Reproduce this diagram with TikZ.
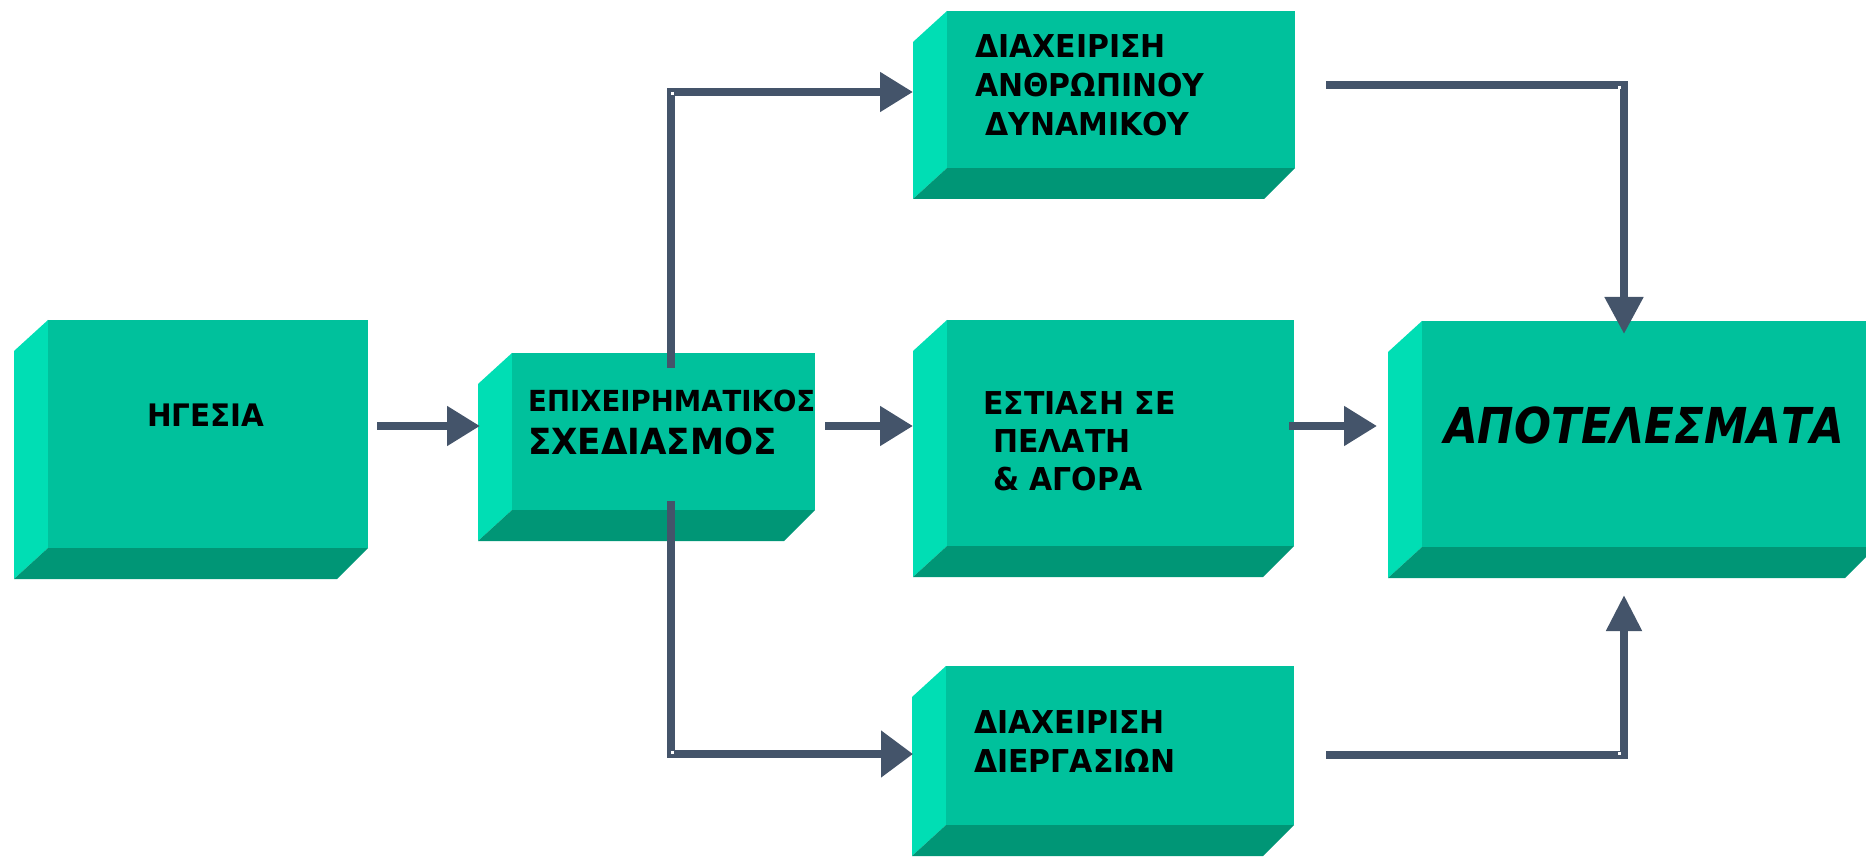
\documentclass[tikz,border=0pt]{standalone}
\usepackage{fontspec}
\setmainfont{DejaVu Sans}[FakeStretch=0.95]
\newfontfamily\resultfont{DejaVu Sans}[FakeStretch=0.88]
\usetikzlibrary{arrows.meta}
\definecolor{facefront}{HTML}{00C19C}
\definecolor{faceside}{HTML}{00DEB4}
\definecolor{facebottom}{HTML}{009676}
\definecolor{linkcol}{HTML}{44546A}

% 3D block: name, x1, y1, x2, y2 of the front face (y grows downward)
\newcommand{\cubebox}[5]{%
  \fill[faceside] (#2-34,#3+31) -- (#2,#3) -- (#2,#5) -- (#2-34,#5+31) -- cycle;
  \fill[facebottom] (#2-34,#5+31) -- (#2,#5) -- (#4,#5) -- (#4-31,#5+31) -- cycle;
  \node[front, minimum width={#4-#2}, minimum height={#5-#3}] (#1) at (#2,#3) {};
}

\begin{document}
\begin{tikzpicture}[x=1pt,y=-1pt,
  front/.style={fill=facefront, inner sep=0, anchor=north west, draw=none},
  lbl/.style={anchor=base west, inner sep=0, text=black,
              font=\bfseries\fontsize{31.5}{37}\selectfont},
  link/.style={draw=linkcol, line width=8pt},
  tipstd/.style={-{Triangle[length=33pt,width=38pt]}},
  tipwide/.style={-{Triangle[length=32pt,width=45pt]}},
  tipdown/.style={-{Triangle[length=37pt,width=37pt]}},
  tipup/.style={-{Triangle[length=36pt,width=34pt]}},
  joint/.style={fill=white}]
\useasboundingbox (0,0) rectangle (1866,858);
\clip (0,0) rectangle (1866,858);

% blocks
\cubebox{lead}{48}{320}{368}{548}
\cubebox{plan}{512}{353}{815}{510}
\cubebox{hr}{947}{11}{1295}{168}
\cubebox{cust}{947}{320}{1294}{546}
\cubebox{res}{1422}{321}{1876}{547}
\cubebox{proc}{946}{666}{1294}{825}

% labels
\node[lbl, font=\bfseries\fontsize{31}{38}\selectfont] (tlead) at (147,427) {ΗΓΕΣΙΑ};
\node[lbl, font=\bfseries\fontsize{29}{34}\selectfont] (tplan1) at (528,411) {ΕΠΙΧΕΙΡΗΜΑΤΙΚΟΣ};
\node[lbl, font=\bfseries\fontsize{36}{44}\selectfont] (tplan2) at (528,454) {ΣΧΕΔΙΑΣΜΟΣ};
\node[lbl] (thr1) at (975,58) {ΔΙΑΧΕΙΡΙΣΗ};
\node[lbl] (thr2) at (975,97) {ΑΝΘΡΩΠΙΝΟΥ};
\node[lbl] (thr3) at (985,136) {ΔΥΝΑΜΙΚΟΥ};
\node[lbl] (tcust1) at (983,414) {ΕΣΤΙΑΣΗ ΣΕ};
\node[lbl] (tcust2) at (993,452) {ΠΕΛΑΤΗ};
\node[lbl] (tcust3) at (993,490) {\&\ ΑΓΟΡΑ};
\node[lbl, font=\resultfont\bfseries\itshape\fontsize{49.5}{58}\selectfont] (tres) at (1444,443) {ΑΠΟΤΕΛΕΣΜΑΤΑ};
\node[lbl] (tproc1) at (974,733) {ΔΙΑΧΕΙΡΙΣΗ};
\node[lbl] (tproc2) at (974,772) {ΔΙΕΡΓΑΣΙΩΝ};

% connector end points
\coordinate (a1s) at (377,426);  \coordinate (a1e) at (480,426);
\coordinate (a2s) at (825,426);  \coordinate (a2e) at (913,426);
\coordinate (a3s) at (1289,426); \coordinate (a3e) at (1377,426);
\coordinate (ups) at (671,368);  \coordinate (upe) at (913,92);
\coordinate (dns) at (671,501);  \coordinate (dne) at (913,754);
\coordinate (rts) at (1326,85);  \coordinate (rte) at (1624,334);
\coordinate (rbs) at (1326,755); \coordinate (rbe) at (1624,595);

% connectors
\draw[link, tipstd] (a1s) -- (a1e);
\draw[link, tipstd] (a2s) -- (a2e);
\draw[link, tipstd] (a3s) -- (a3e);
\draw[link, tipstd] (ups) |- (upe);
\draw[link, tipwide] (dns) |- (dne);
\draw[link, tipdown] (rts) -| (rte);
\draw[link, tipup] (rbs) -| (rbe);

% small joints at the elbows
\fill[joint] (671,92) rectangle ++(3,3);
\fill[joint] (671,751) rectangle ++(3,3);
\fill[joint] (1621,86) rectangle ++(-3,3);
\fill[joint] (1621,755) rectangle ++(-3,-3);
\end{tikzpicture}
\end{document}
